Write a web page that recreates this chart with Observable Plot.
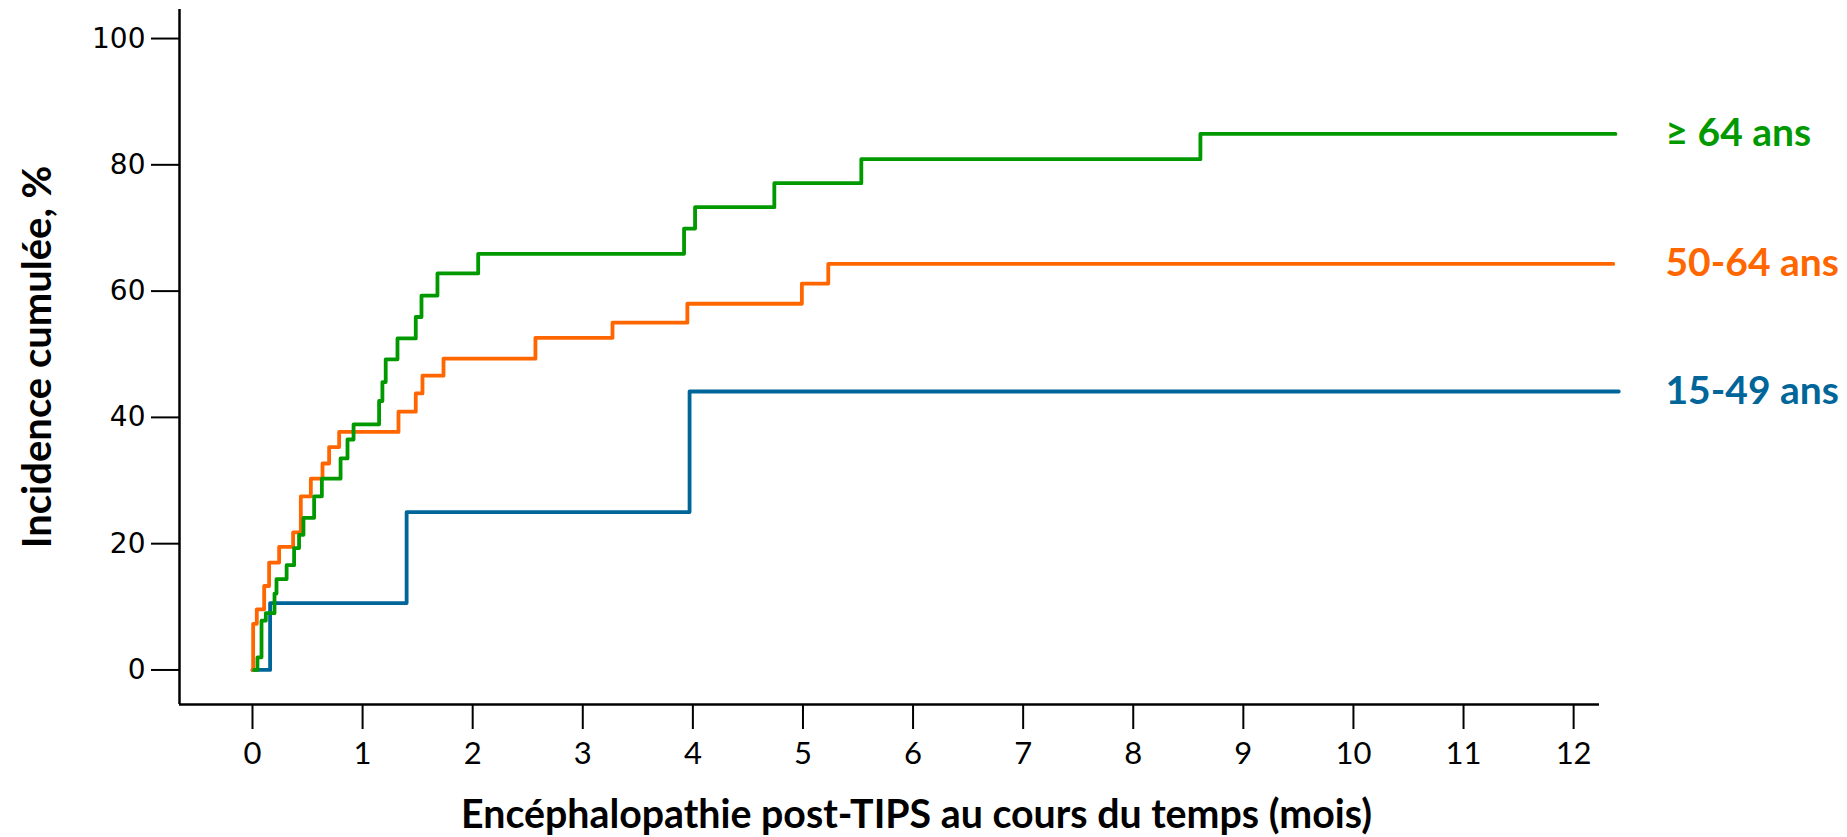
<!DOCTYPE html>
<html><head><meta charset="utf-8">
<script src="https://cdn.jsdelivr.net/npm/d3@7"></script>
<script src="https://cdn.jsdelivr.net/npm/@observablehq/plot@0.6"></script>
<style>body{margin:0;background:#fff}</style>
</head><body><div id="chart"></div>
<script>
// Series (cumulative incidence, %, vs months)
const groups = ["15-49 ans", "50-64 ans", "≥ 64 ans"];
const colors = ["#006699", "#ff6600", "#009900"];

const t1549 = [0, 0.16, 1.40, 3.97];
const v1549 = [0, 10.6, 25.0, 44.1];

const t5064 = [0, 0.006, 0.039, 0.106, 0.151, 0.242, 0.369, 0.439, 0.53, 0.636, 0.696, 0.787, 1.326, 1.483, 1.544, 1.735, 2.57, 3.27, 3.95, 4.99, 5.23];
const v5064 = [0, 7.3, 9.6, 13.3, 17.0, 19.5, 21.8, 27.5, 30.3, 32.7, 35.3, 37.7, 40.9, 43.8, 46.6, 49.3, 52.6, 55.0, 58.0, 61.2, 64.3];

const t64 = [0.015, 0.045, 0.082, 0.121, 0.20, 0.218, 0.31, 0.378, 0.423, 0.463, 0.56, 0.63, 0.80, 0.863, 0.918, 1.15, 1.18, 1.21, 1.317, 1.483, 1.535, 1.68, 2.05, 3.92, 4.02, 4.74, 5.53, 8.61];
const v64 = [0, 2.0, 7.8, 9.0, 12.1, 14.4, 16.6, 19.3, 21.4, 24.1, 27.5, 30.3, 33.5, 36.5, 38.9, 42.6, 45.6, 49.2, 52.5, 55.9, 59.3, 62.8, 65.9, 69.9, 73.3, 77.1, 80.9, 84.9];

const tEnd = [12.41, 12.36, 12.38]; // end of follow-up drawn for each group

const xTicks = [0, 1, 2, 3, 4, 5, 6, 7, 8, 9, 10, 11, 12];
const yTicks = [0, 20, 40, 60, 80, 100];

const xTitle = "Encéphalopathie post-TIPS au cours du temps (mois)";
const yTitle = "Incidence cumulée, %";

// Build tables
const seriesT = [t1549, t5064, t64];
const seriesV = [v1549, v5064, v64];
const rows = [];
const ends = [];
groups.forEach((g, i) => {
  seriesT[i].forEach((t, j) => rows.push({g, t, v: seriesV[i][j]}));
  const last = seriesV[i][seriesV[i].length - 1];
  rows.push({g, t: tEnd[i], v: last});
  ends.push({g, t: tEnd[i], v: last});
});

const xDomain = [-0.663, 12.235];
const yDomain = [-5.47, 104.6];
const boldFont = "Lato, 'Open Sans', sans-serif";

const chart = Plot.plot({
  width: 1847,
  height: 837,
  marginLeft: 179,
  marginRight: 248,
  marginTop: 9,
  marginBottom: 133,
  style: {background: "white", color: "black"},
  x: {domain: xDomain},
  y: {domain: yDomain},
  color: {domain: groups, range: colors},
  marks: [
    Plot.axisY(yTicks, {tickSize: 28, tickPadding: 6, fontSize: 28, fontFamily: "'DejaVu Sans', sans-serif", strokeWidth: 2, label: null}),
    Plot.axisX(xTicks, {tickSize: 25, tickPadding: 12, fontSize: 31, fontFamily: "Lato, sans-serif", strokeWidth: 2, label: null}),
    Plot.ruleX([xDomain[0]], {y1: yDomain[0], y2: yDomain[1], strokeWidth: 2.5}),
    Plot.ruleY([yDomain[0]], {x1: xDomain[0], x2: xDomain[1], strokeWidth: 2.5}),
    Plot.line(rows, {x: "t", y: "v", z: "g", stroke: "g", curve: "step-after", strokeWidth: 3.8}),
    Plot.text(ends, {y: "v", text: "g", fill: "g", frameAnchor: "right", dx: 66, textAnchor: "start", lineAnchor: "middle", fontSize: 39, fontWeight: "bold", fontFamily: boldFont}),
    Plot.text([xTitle], {text: d => d, frameAnchor: "bottom", dx: 27, dy: 111, textAnchor: "middle", lineAnchor: "middle", fontSize: 39.3, fontWeight: "bold", fontFamily: boldFont, fill: "black"}),
    Plot.text([yTitle], {text: d => d, frameAnchor: "left", dx: -141, rotate: -90, textAnchor: "middle", lineAnchor: "middle", fontSize: 40, fontWeight: "bold", fontFamily: boldFont, fill: "black"})
  ]
});
document.getElementById("chart").appendChild(chart);
</script>
</body></html>
